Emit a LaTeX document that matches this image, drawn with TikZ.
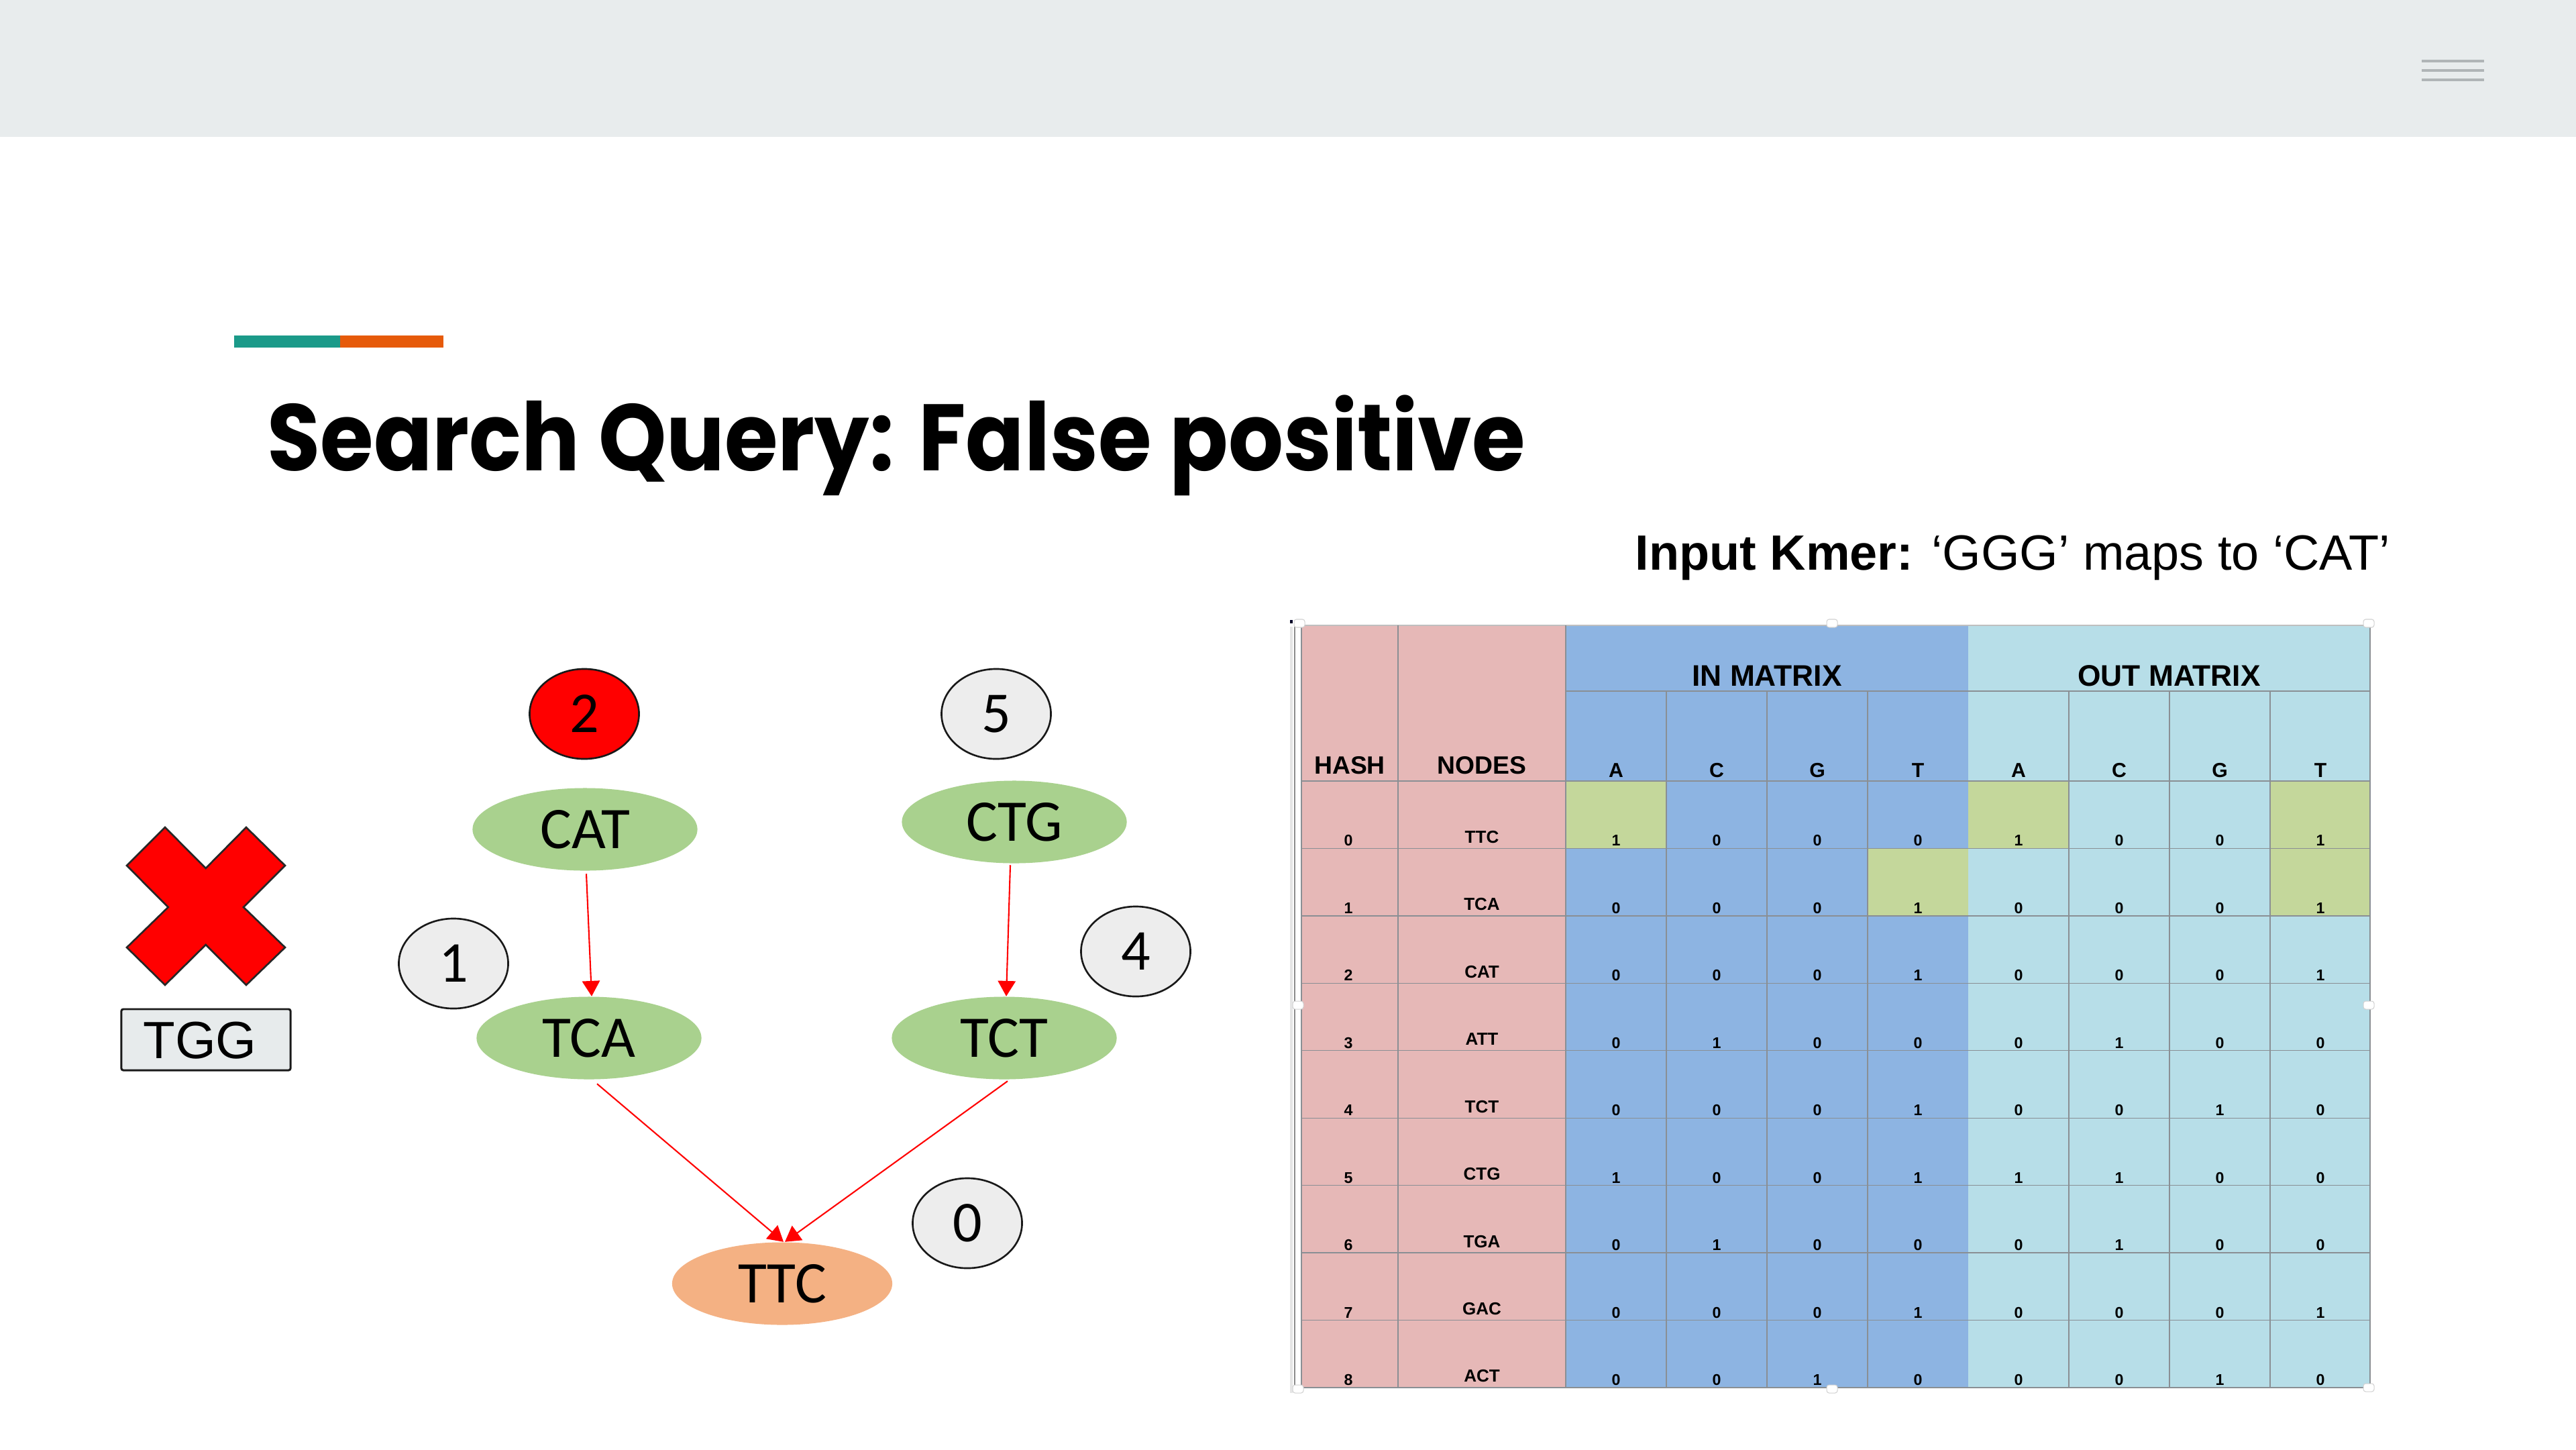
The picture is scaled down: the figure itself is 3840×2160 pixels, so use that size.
\documentclass[tikz,border=0pt]{standalone}
\usepackage{fontspec}
\setmainfont{Liberation Sans}
\newfontfamily\graphfont{Carlito}
\newfontfamily\titlefont{Poppins}
\usetikzlibrary{shapes.geometric,arrows.meta,calc}

\definecolor{bandgray}{HTML}{E8ECED}
\definecolor{menugray}{HTML}{B0B5B7}
\definecolor{accentteal}{HTML}{1B9A89}
\definecolor{accentorange}{HTML}{E65A0A}
\definecolor{kmergreen}{HTML}{A9D18E}
\definecolor{ttcorange}{HTML}{F4B183}
\definecolor{ovalgray}{HTML}{EDEDED}
\definecolor{boxgray}{HTML}{E7EBEC}
\definecolor{cellpink}{HTML}{E6B8B7}
\definecolor{cellblue}{HTML}{8DB4E2}
\definecolor{cellaqua}{HTML}{B7DEE8}
\definecolor{cellgreen}{HTML}{C4D79B}
\definecolor{gridgray}{HTML}{8A8F94}

\begin{document}
\begin{tikzpicture}[x=0.01cm,y=-0.01cm,
  kmernode/.style={ellipse, fill=kmergreen, inner sep=0pt,
    minimum width=3.35cm, minimum height=1.23cm,
    font=\graphfont\fontsize{25}{30}\selectfont, text height=16.1pt, text depth=0pt},
  numoval/.style={ellipse, draw=black!90, line width=0.75pt, fill=ovalgray, inner sep=0pt,
    minimum width=1.63cm, minimum height=1.34cm,
    font=\graphfont\fontsize{24.5}{30}\selectfont, text height=15.5pt, text depth=0pt},
  edgearrow/.style={draw=red, line width=0.6pt, -{Triangle[length=6.5pt,width=7.5pt]}},
  matrixtitle/.style={anchor=base, inner sep=0pt, font=\bfseries\fontsize{12.6}{14}\selectfont},
  colhead/.style={anchor=base, inner sep=0pt, font=\bfseries\fontsize{10.6}{12}\selectfont},
  basehead/.style={anchor=base, inner sep=0pt, font=\bfseries\fontsize{8.6}{10}\selectfont},
  digitcell/.style={anchor=base, inner sep=0pt, font=\bfseries\fontsize{6.6}{8}\selectfont},
  namecell/.style={anchor=base, inner sep=0pt, font=\bfseries\fontsize{7.4}{9}\selectfont},
  gridline/.style={draw=gridgray, line width=0.35pt},
  handle/.style={fill=white, draw=black!18, line width=0.3pt, rounded corners=1pt}
]
\useasboundingbox (0,0) rectangle (3840,2160);
\fill[white] (0,0) rectangle (3840,2160);

% top band and menu icon
\fill[bandgray] (0,0) rectangle (3840,204);
\foreach \yy in {91,105,119}
  \draw[menugray, line width=0.95pt] (3610,\yy) -- (3703,\yy);

% accent bar and title
\fill[accentteal] (349,500) rectangle (507,518);
\fill[accentorange] (507,500) rectangle (661,518);
\node[anchor=base west, inner sep=0pt] (title) at (398,701)
  {\scalebox{0.916}[1]{\titlefont\bfseries\fontsize{40}{48}\selectfont Search Query: False positive}};

\node[anchor=base west, inner sep=0pt] (kmerline) at (2437,849)
  {\fontsize{21}{25}\selectfont\textbf{Input Kmer:} ‘GGG’ maps to ‘CAT’};

% ---------------- table ----------------
% frame of the embedded sheet
\draw[black!10, line width=1.4pt] (1925,934) -- (1925,2076);
\draw[black!45, line width=0.8pt] (1930,934) -- (1930,2076);
\fill[black!85!blue] (1923,924) rectangle (1927,929);

% cell colours
\fill[cellpink] (1940,932) rectangle (2334,2068);
\fill[cellblue] (2334,932) rectangle (2934,2068);
\fill[cellaqua] (2934,932) rectangle (3533,2068);
\fill[cellgreen] (2334,1164) rectangle (2484,1264.44);
\fill[cellgreen] (2934,1164) rectangle (3084,1264.44);
\fill[cellgreen] (3384,1164) rectangle (3533,1364.88);
\fill[cellgreen] (2784,1264.44) rectangle (2934,1364.88);

% grid
\draw[gridline, draw=black!25] (1940,932) -- (3533,932);
\draw[gridline] (2334,1030) -- (3533,1030);
\foreach \k in {0,...,9}
  \draw[gridline] (1940,{1164+100.44*\k}) -- (3533,{1164+100.44*\k});
\foreach \xx in {1940,2084,2334,3533}
  \draw[gridline] (\xx,932) -- (\xx,2068);
\foreach \xx in {2484,2634,2784,3084,3234,3384}
  \draw[gridline] (\xx,1030) -- (\xx,2068);

% headers
\node[matrixtitle] (inmat) at (2634,1022) {IN MATRIX};
\node[matrixtitle] (outmat) at (3233.5,1022) {OUT MATRIX};
\node[colhead] (hash) at (2012,1153) {HASH};
\node[colhead] (nodes) at (2209,1153) {NODES};
\foreach \base [count=\j from 0] in {A,C,G,T,A,C,G,T}
  \node[basehead] (base-\j) at ({2409+150*\j},1158) {\base};

% rows
\foreach \kmer/\ia/\ib/\ic/\id/\oa/\ob/\oc/\od [count=\k from 0] in
  {TTC/1/0/0/0/1/0/0/1, TCA/0/0/0/1/0/0/0/1, CAT/0/0/0/1/0/0/0/1,
   ATT/0/1/0/0/0/1/0/0, TCT/0/0/0/1/0/0/1/0, CTG/1/0/0/1/1/1/0/0,
   TGA/0/1/0/0/0/1/0/0, GAC/0/0/0/1/0/0/0/1, ACT/0/0/1/0/0/0/1/0}
{
  \pgfmathsetmacro{\rowbottom}{1164+100.44*(\k+1)}
  \node[digitcell] (hash-\k) at (2010,\rowbottom-3.5) {\k};
  \node[namecell] (name-\k) at (2209,\rowbottom-8) {\kmer};
  \foreach \v [count=\j from 0] in {\ia,\ib,\ic,\id,\oa,\ob,\oc,\od}
    \node[digitcell] (val-\k-\j) at ({2409+150*\j},\rowbottom-3.5) {\v};
}

% selection handles on the sheet frame
\foreach \hx/\hy in {1937/929, 2731/929, 3531/929, 1935/1498, 3531/1498,
                     1935/2070, 2731/2070, 3531/2068}
  \filldraw[handle] (\hx-8,\hy-6) rectangle (\hx+8,\hy+6);

% ---------------- graph ----------------
\filldraw[fill=red, draw=black!85, line width=0.75pt, line join=miter]
  (246,1233) -- (306.7,1294) -- (367,1233) -- (425,1290) -- (363,1352)
  -- (425,1412) -- (367,1468) -- (306.7,1408) -- (246,1468) -- (189,1412)
  -- (250.7,1352) -- (189,1290) -- cycle;

\node[draw=black!90, line width=0.85pt, fill=boxgray, rounded corners=0.8pt,
      minimum width=2.52cm, minimum height=0.91cm, inner sep=0pt,
      font=\fontsize{22.2}{26}\selectfont, text height=15.9pt, text depth=0pt]
      (tgg) at (307,1549.5) {\hspace*{-0.18cm}TGG};

\node[numoval, fill=red] (n2) at (871,1064) {2};
\node[numoval] (n5) at (1485,1064) {5};
\node[numoval] (n1) at (676,1436) {1};
\node[numoval] (n4) at (1693,1418) {4};
\node[numoval] (n0) at (1442,1823) {0};

\node[kmernode] (cat) at (872,1236) {CAT};
\node[kmernode] (ctg) at (1512,1225) {CTG};
\node[kmernode] (tca) at (878,1547) {TCA};
\node[kmernode] (tct) at (1497,1547) {TCT};
\node[kmernode, fill=ttcorange, minimum width=3.28cm] (ttc) at (1166,1913) {TTC};

\draw[edgearrow] ($(cat.south)+(2,4)$) -- ($(tca.north)+(4,0)$);
\draw[edgearrow] ($(ctg.south)+(-6,2)$) -- ($(tct.north)+(3,0)$);
\draw[edgearrow] ($(tca.south)+(12,6)$) -- ($(ttc.north)+(2,0)$);
\draw[edgearrow] ($(tct.south)+(5,2)$) -- ($(ttc.north)+(4,0)$);
\end{tikzpicture}
\end{document}
